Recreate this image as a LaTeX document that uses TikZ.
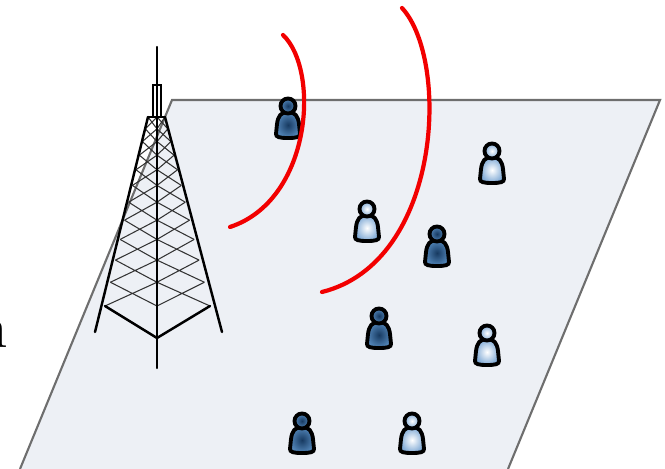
\documentclass[tikz,border=0pt]{standalone}
\usetikzlibrary{positioning}

\definecolor{groundfill}{HTML}{EDF0F5}
\definecolor{groundedge}{HTML}{6E6E6E}
\definecolor{wavered}{HTML}{F20000}
\definecolor{userdark}{HTML}{173A61}
\definecolor{userdarkrim}{HTML}{5285B8}
\definecolor{userlightrim}{HTML}{7FA9D5}

\tikzset{
  ground/.style={draw=groundedge, line width=1.2},
  leg/.style={line width=1.4, line cap=round},
  brace/.style={line width=0.6, black!80},
  wave/.style={wavered, line width=2.4, line cap=round},
  darkuser/.code={\colorlet{usercore}{userdark}\colorlet{userrim}{userdarkrim}},
  lightuser/.code={\colorlet{usercore}{white}\colorlet{userrim}{userlightrim}},
  pics/user/.style={code={
      % body
      \shade[inner color=usercore, outer color=userrim, draw=black, line width=2.2]
        (0,-5) .. controls (7,-5) and (10,-1) .. (11,7) -- (12,17)
        .. controls (12,20) and (9,21) .. (0,21)
        .. controls (-9,21) and (-12,20) .. (-12,17) -- (-11,7)
        .. controls (-10,-1) and (-7,-5) .. cycle;
      % head
      \shade[inner color=usercore, outer color=userrim, draw=black, line width=2.2]
        (0,-11) circle (7.5);
  }}
}

\begin{document}
\begin{tikzpicture}[x=0.02cm, y=-0.02cm]
  \useasboundingbox (0,0) rectangle (665,469);

  % ground plane
  \coordinate (gtl) at (172,100);
  \coordinate (gtr) at (660,100);
  \coordinate (gbr) at (508,469);
  \coordinate (gbl) at (20,469);
  \fill[groundfill] (gbl) -- (gtl) -- (gtr) -- (gbr) -- cycle;
  \draw[ground] (gbl) -- (gtl) -- (gtr) -- (gbr);

  % cut letter on the left
  \node[font=\fontsize{34}{34}\selectfont, inner sep=0pt, anchor=base east] (letter) at (8,347) {n};

  % tower
  \def\N{11}
  \foreach \k in {0,...,\N}{
    \pgfmathsetmacro\s{(1.072^\k-1)/(1.072^\N-1)}
    \coordinate (l\k) at ({148-43*\s}, {117+189*\s});
    \coordinate (c\k) at (157, {117+189*\s});
    \coordinate (r\k) at ({165+45*\s}, {117+189*\s});
  }
  \foreach \k [count=\j] in {0,...,10}
    \draw[brace] (l\k) -- (c\j) (c\k) -- (l\j) (r\k) -- (c\j) (c\k) -- (r\j);
  \coordinate (ftip) at (157,338);
  \draw[leg] (l0) -- (95,332);
  \draw[leg] (r0) -- (222,332);
  \draw[leg] (157,47) -- (157,368);
  \draw[leg] (l\N) -- (ftip) -- (r\N);
  \draw[leg] (l0) -- (r0);
  \draw[line width=1.1] (153,117) -- (153,85) -- (161,85) -- (161,117);

  % users
  \pic[darkuser]  at (288,117) {user};
  \pic[lightuser] at (492,162) {user};
  \pic[lightuser] at (367,220) {user};
  \pic[darkuser]  at (437,245) {user};
  \pic[darkuser]  at (379,327) {user};
  \pic[lightuser] at (487,344) {user};
  \pic[darkuser]  at (302,432) {user};
  \pic[lightuser] at (412,432) {user};

  % radio waves
  \draw[wave] (283,35) .. controls (320,70) and (312,200) .. (230,227);
  \draw[wave] (402,8) .. controls (450,60) and (442,262) .. (322,292);
\end{tikzpicture}
\end{document}
